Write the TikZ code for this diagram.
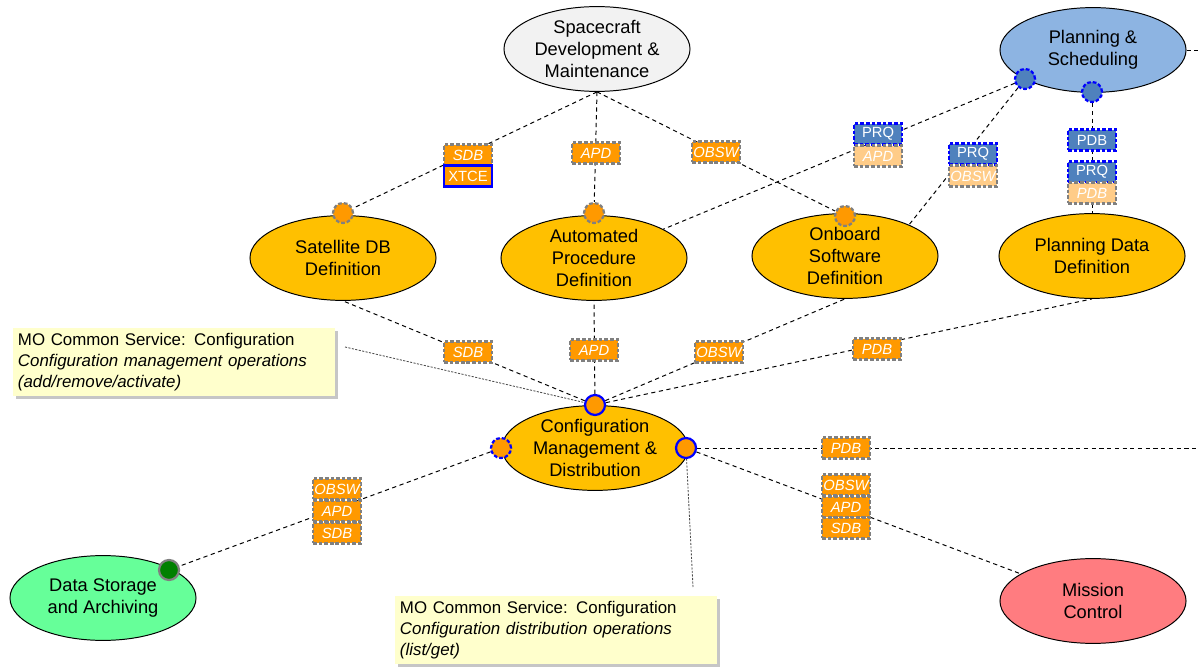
\documentclass[tikz,border=0pt]{standalone}
\usepackage{fontspec}
\setmainfont{Liberation Sans}
\usepackage{tikz}
\usetikzlibrary{shapes.geometric}
\usetikzlibrary{backgrounds}
\usetikzlibrary{shadows}

\definecolor{blkorange}{HTML}{FFC000}
\definecolor{tagorange}{HTML}{FF9900}
\definecolor{tagpale}{HTML}{FFCC88}
\definecolor{tagblue}{HTML}{4F81BD}
\definecolor{psblue}{HTML}{8DB4E2}
\definecolor{sdmgray}{HTML}{F2F2F2}
\definecolor{dsagreen}{HTML}{66FF99}
\definecolor{mcred}{HTML}{FF7C80}
\definecolor{notefill}{HTML}{FFFFCC}
\definecolor{gborder}{HTML}{808080}

\tikzset{blk/.style={ % the big function ellipses
			ellipse, draw, line width=0.7pt,
			minimum width=4.65cm, minimum height=2.12cm,
			inner sep=0pt, align=center,
			font=\fontsize{13}{15.6}\selectfont,
			fill=blkorange},
		tag/.style={ % orange data tags
			draw=gborder, line width=1.6pt, dash pattern=on 2.6pt off 1.4pt,
			fill=tagorange, text=white,
			font=\fontsize{10.5}{12}\selectfont\itshape,
			minimum width=1.2cm, minimum height=0.52cm, inner sep=0pt},
		paletag/.style={tag, fill=tagpale},
		prqtag/.style={tag, draw=blue, fill=tagblue,
			font=\fontsize{10.5}{12}\selectfont},
		xtcetag/.style={tag, draw=blue, solid, fill=tagorange,
			font=\fontsize{10.5}{12}\selectfont},
		port/.style={ % interface points on the ellipses
			circle, minimum size=0.5cm, inner sep=0pt,
			line width=1.6pt, draw=gborder, dash pattern=on 2.6pt off 1.4pt,
			fill=tagorange},
		link/.style={draw, line width=0.7pt, dash pattern=on 3pt off 2.5pt},
		notelink/.style={draw=black!70, line width=0.6pt, dash pattern=on 1.5pt off 1pt},
		note/.style={fill=notefill, text width=7.8cm, align=left, inner sep=0.13cm,
			font=\fontsize{12}{14.9}\selectfont,
			drop shadow={shadow xshift=2pt, shadow yshift=-2pt, opacity=0.45}}}

\begin{document}
\begin{tikzpicture}[x=0.025cm, y=-0.025cm]
			\useasboundingbox (0,0) rectangle (1199,669);

			% ellipses
			\node[blk, fill=sdmgray] (sdm) at (597,49) {Spacecraft\\Development \&\\Maintenance};
			\node[blk, fill=psblue] (ps) at (1093,50) {Planning \&\\Scheduling};
			\node[blk] (sdbd) at (343,258) {Satellite DB\\Definition};
			\node[blk] (apd) at (594,258) {Automated\\Procedure\\Definition};
			\node[blk] (osd) at (845,256) {Onboard\\Software\\Definition};
			\node[blk] (pdd) at (1092,256) {Planning Data\\Definition};
			\node[blk] (cmd) at (595,448) {Configuration\\Management \&\\Distribution};
			\node[blk, fill=dsagreen] (dsa) at (103,598) {Data Storage\\and Archiving};
			\node[blk, fill=mcred] (mc) at (1093,601) {Mission\\Control};

			% ports
			\node[port] (p1) at (343,213) {};
			\node[port] (p2) at (594,213) {};
			\node[port] (p3) at (845,216) {};
			\node[port, draw=blue, fill=tagblue] (pp1) at (1025,79) {};
			\node[port, draw=blue, fill=tagblue] (pp2) at (1092,92) {};
			\node[port, draw=blue, solid] (cp1) at (595,405) {};
			\node[port, draw=blue] (cp2) at (501,448) {};
			\node[port, draw=blue, solid] (cp3) at (686,448) {};
			\node[port, solid, fill=green!50!black] (dp) at (169,570) {};

			% data tags
			\node[tag] (t1) at (468,155) {SDB};
			\node[xtcetag] (t2) at (468,176) {XTCE};
			\node[tag] (t3) at (596,153) {APD};
			\node[tag] (t4) at (716,152) {OBSW};
			\node[prqtag] (t5) at (878,134) {PRQ};
			\node[paletag] (t6) at (878,156) {APD};
			\node[prqtag] (t7) at (973,154) {PRQ};
			\node[paletag] (t8) at (973,176) {OBSW};
			\node[prqtag] (t9) at (1092,140) {PDB};
			\node[prqtag] (t10) at (1092,172) {PRQ};
			\node[paletag] (t11) at (1092,193) {PDB};
			\node[tag] (t12) at (468,352) {SDB};
			\node[tag] (t13) at (594,350) {APD};
			\node[tag] (t14) at (719,352) {OBSW};
			\node[tag] (t15) at (877,349) {PDB};
			\node[tag] (t16) at (337,489) {OBSW};
			\node[tag] (t17) at (337,511) {APD};
			\node[tag] (t18) at (337,533) {SDB};
			\node[tag] (t19) at (846,448) {PDB};
			\node[tag] (t20) at (846,485) {OBSW};
			\node[tag] (t21) at (846,507) {APD};
			\node[tag] (t22) at (846,528) {SDB};

			% notes
			\node[note] (n1) at (174,362) {MO Common Service: Configuration\\\textit{Configuration management operations (add/remove/activate)}};
			\node[note] (n2) at (556,630) {MO Common Service: Configuration\\\textit{Configuration distribution operations (list/get)}};

			\coordinate (psout) at (1199,50);
			\coordinate (cmdout) at (1199,448);
			\coordinate (n1tip) at (345,347);
			\coordinate (n2tip) at (693,587);

			\begin{scope}[on background layer]
				\draw[link] (sdm.south) -- (p1);
				\draw[link] (sdm.south) -- (p2);
				\draw[link] (sdm.south) -- (p3);
				\draw[link] (pp1) -- (apd);
				\draw[link] (pp1) -- (osd.26);
				\draw[link] (pp2) -- (pdd);
				\draw[link] (ps.east) -- (psout);
				\draw[link] (cp1) -- (sdbd.south);
				\draw[link] (cp1) -- (apd.south);
				\draw[link] (cp1) -- (osd.south);
				\draw[link] (cp1) -- (pdd.south);
				\draw[link] (cp2) -- (dp);
				\draw[link] (cp3) -- (cmdout);
				\draw[link] (cp3) -- (mc);
				\draw[notelink] (n1tip) -- (cp1.center);
				\draw[notelink] (cp3.center) -- (n2tip);
			\end{scope}
		\end{tikzpicture}
\end{document}
